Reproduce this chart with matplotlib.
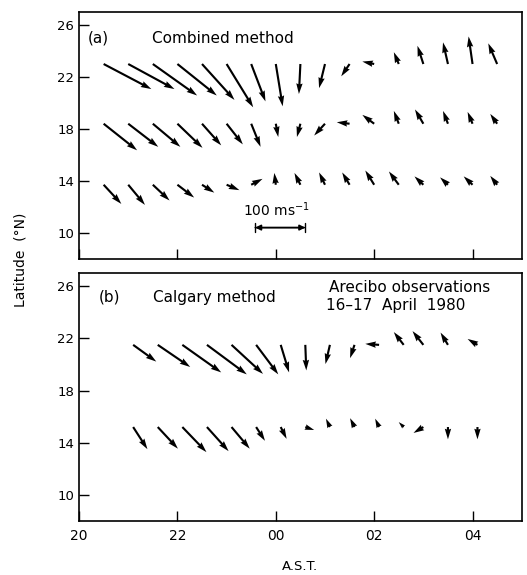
import numpy as np
import matplotlib.pyplot as plt

# (a) combined method: hour (24 = 00 AST), wind components in m/s
time_a = [20.5, 21.0, 21.5, 22.0, 22.5, 23.0, 23.5, 24.0, 24.5,
          25.0, 25.5, 26.0, 26.5, 27.0, 27.5, 28.0, 28.5]
lat_a = [23.0, 18.4, 13.7]
u_a = [
    [97, 94, 90, 80, 66, 54, 29, 14, -3, -12, -17, -24, -10, -12, -10, -8, -18],
    [68, 61, 56, 51, 39, 33, 19, 5, -7, -22, -26, -24, -10, -17, -10, -10, -14],
    [36, 34, 34, 34, 25, 26, 23, -3, -12, -12, -15, -18, -20, -18, -16, -18, -14],
]
v_a = [
    [-51, -51, -64, -64, -73, -88, -76, -86, -61, -49, -25, 5, 24, 37, 44, 56, 42],
    [-54, -47, -47, -49, -44, -42, -47, -27, -27, -24, 3, 18, 26, 29, 26, 24, 20],
    [-39, -41, -32, -26, -16, -11, 12, 24, 24, 25, 25, 29, 27, 17, 15, 17, 18],
]

# (b) Calgary method
time_b = [21.1, 21.6, 22.1, 22.6, 23.1, 23.6, 24.1, 24.6,
          25.1, 25.6, 26.1, 26.6, 27.0, 27.5, 28.1]
lat_b = [21.5, 15.2]
u_b = [
    [47, 66, 79, 81, 64, 45, 17, 2, -9, -9, -28, -20, -22, -15, -20],
    [29, 41, 49, 44, 37, 18, 12, 18, -8, -9, -8, -10, -20, 0, 0],
]
v_b = [
    [-34, -45, -56, -60, -59, -60, -56, -52, -39, -27, 2, 26, 28, 25, 12],
    [-45, -44, -51, -49, -44, -28, -24, -6, 17, 18, 17, 10, -12, -25, -25],
]

xticks = [20, 22, 24, 26, 28]
yticks = [10, 14, 18, 22, 26]

plt.rcParams['font.family'] = 'DejaVu Sans'
fig = plt.figure(figsize=(5.27, 5.75), dpi=100)
ax_a = fig.add_axes([0.150, 0.550, 0.840, 0.429])
ax_b = fig.add_axes([0.150, 0.094, 0.840, 0.431])

qkw = dict(angles='uv', scale_units='x', scale=100, pivot='tail',
           color='black', width=0.0048, headwidth=3.0, headlength=5.0,
           headaxislength=4.6, minshaft=1, minlength=0.3)


def draw_rows(ax, times, lats, us, vs):
    for lat, u, v in zip(lats, us, vs):
        ax.quiver(times, np.full(len(times), lat), u, v, **qkw)


draw_rows(ax_a, time_a, lat_a, u_a, v_a)
draw_rows(ax_b, time_b, lat_b, u_b, v_b)

for ax in (ax_a, ax_b):
    ax.set_xlim(20, 29)
    ax.set_ylim(8, 27)
    ax.set_xticks(xticks)
    ax.set_yticks(yticks)
    ax.set_yticklabels([str(t) for t in yticks], fontsize=9.5)
    ax.tick_params(direction='in', length=7, width=1.0, top=False, right=False)
    for s in ax.spines.values():
        s.set_linewidth(1.2)

ax_a.set_xticklabels([])
ax_b.set_xticklabels(['%02d' % (t % 24) for t in xticks], fontsize=10)
ax_b.tick_params(axis='x', pad=6)

ax_a.text(20.17, 25.0, '(a)', fontsize=11, ha='left', va='center')
ax_a.text(21.48, 25.0, 'Combined method', fontsize=11, ha='left', va='center')

# reference arrow
ax_a.text(24.02, 11.75, '100 ms$^{-1}$', fontsize=10, ha='center', va='center')
ax_a.annotate('', xy=(24.6, 10.4), xytext=(23.58, 10.4),
              arrowprops=dict(arrowstyle='<|-|>', color='black', lw=1.2,
                              mutation_scale=8, shrinkA=0, shrinkB=0))
ax_a.annotate('', xy=(24.6, 10.4), xytext=(23.58, 10.4),
              arrowprops=dict(arrowstyle='|-|', color='black', lw=1.0,
                              mutation_scale=3, shrinkA=0, shrinkB=0))

ax_b.text(20.40, 25.15, '(b)', fontsize=11, ha='left', va='center')
ax_b.text(21.5, 25.15, 'Calgary method', fontsize=11, ha='left', va='center')
ax_b.text(25.08, 25.9, 'Arecibo observations', fontsize=11, ha='left', va='center')
ax_b.text(25.02, 24.5, '16\u201317  April  1980', fontsize=11, ha='left', va='center')

ax_b.set_xlabel('A.S.T.', fontsize=9.5, labelpad=12)
fig.text(0.038, 0.548, 'Latitude  (\u00b0N)', rotation=90, fontsize=10,
         ha='center', va='center')

fig.savefig('out.png', dpi=100)
